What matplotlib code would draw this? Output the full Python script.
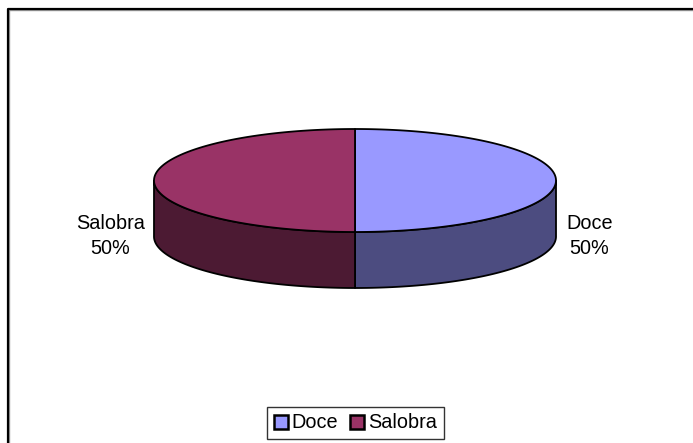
import numpy as np
import matplotlib.pyplot as plt
from matplotlib.patches import Polygon, Patch
from matplotlib.lines import Line2D

# ================= DATA =================
LABELS = ["Doce", "Salobra"]
VALUES = [50, 50]
TOP_COLORS = ["#9999ff", "#993366"]
SIDE_COLORS = ["#4c4c80", "#4c1a33"]

# ================= SETTINGS =================
W, H = 693, 443
CX, CY = 355, 180.5     # centre of top ellipse (px)
RX, RY = 201, 51.5      # semi axes
DEPTH = 56
START = 90.0
FONT = "Liberation Sans"
FS = 14.3

plt.rcParams["font.family"] = [FONT, "DejaVu Sans"]

fig = plt.figure(figsize=(W / 100, H / 100), dpi=100)
ax = fig.add_axes([0, 0, 1, 1])
ax.set_xlim(0, W)
ax.set_ylim(H, 0)
ax.axis("off")


def ell(t):
    r = np.radians(t)
    return CX + RX * np.cos(r), CY - RY * np.sin(r)


fracs = np.asarray(VALUES, float) / np.sum(VALUES)
cum = np.concatenate([[0], np.cumsum(fracs)])

# sides first
for i, f in enumerate(fracs):
    t0 = START - cum[i] * 360
    t1 = t0 - f * 360
    t = np.linspace(t0, t1, 400)
    t = t[np.sin(np.radians(t)) <= 1e-9]
    if t.size < 2:
        continue
    x, y = ell(t)
    pts = np.column_stack([np.r_[x, x[::-1]], np.r_[y, y[::-1] + DEPTH]])
    ax.add_patch(Polygon(pts, closed=True, facecolor=SIDE_COLORS[i],
                         edgecolor="black", lw=1.3, joinstyle="round", zorder=2))

# tops
for i, f in enumerate(fracs):
    t0 = START - cum[i] * 360
    t1 = t0 - f * 360
    t = np.linspace(t0, t1, 400)
    x, y = ell(t)
    pts = np.column_stack([np.r_[CX, x], np.r_[CY, y]])
    ax.add_patch(Polygon(pts, closed=True, facecolor=TOP_COLORS[i],
                         edgecolor="black", lw=1.3, joinstyle="round", zorder=3))

# labels
for i, f in enumerate(fracs):
    mid = START - (cum[i] + f / 2) * 360
    c = np.cos(np.radians(mid))
    x, y = ell(mid)
    ha = "left" if c > 0 else "right"
    x = x + (10 if c > 0 else -9)
    ax.text(x, y + DEPTH - 1, f"{LABELS[i]}\n{VALUES[i] / sum(VALUES):.0%}",
            ha=ha, va="center", multialignment="center", fontsize=FS,
            linespacing=1.4, zorder=5)

# outer frame (open at right / bottom like the crop)
ax.add_line(Line2D([8.5, 8.5, W], [H, 9.5, 9.5], color="#9a9a9a", lw=1.0, zorder=1))
ax.add_line(Line2D([8, 8, W], [H, 9, 9], color="black", lw=1.6, zorder=1))

handles = [Patch(facecolor=TOP_COLORS[i], edgecolor="black", lw=1.8, label=LABELS[i])
           for i in range(len(LABELS))]
leg = fig.legend(handles=handles, loc="center", bbox_to_anchor=(355.5 / W, 1 - 423 / H),
                 ncol=2, frameon=True, fancybox=False, edgecolor="black",
                 fontsize=FS, handlelength=0.7, handleheight=0.7, handletextpad=0.2,
                 columnspacing=0.6, borderpad=0.35, borderaxespad=0)
leg.get_frame().set_linewidth(1.0)

fig.savefig("out.png", dpi=100, facecolor="white")
